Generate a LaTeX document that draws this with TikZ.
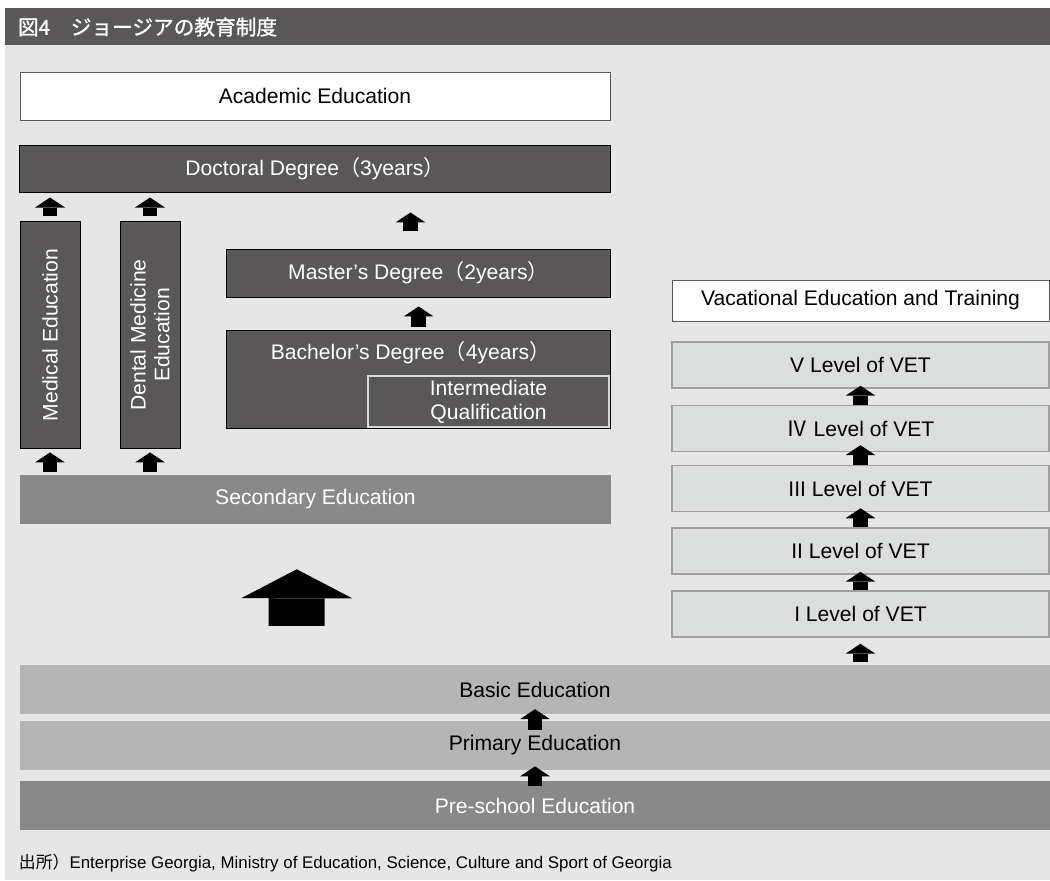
\documentclass[tikz,border=0pt]{standalone}
\usepackage{fontspec}
\setmainfont{Liberation Sans}
\newfontfamily\cjk{Noto Sans CJK JP}
\newfontfamily\cjktitle{Noto Sans CJK JP}[FakeBold=1.2]
\usetikzlibrary{arrows.meta,positioning}
\definecolor{Dark}{HTML}{595757}
\definecolor{Back}{HTML}{E6E6E6}
\definecolor{Mid}{HTML}{898989}
\definecolor{Light}{HTML}{B5B5B5}
\definecolor{Vet}{HTML}{DCDDDD}
\definecolor{VetLine}{HTML}{A0A0A0}
\newcommand{\zl}{{\cjk （}}
\newcommand{\zr}{{\cjk ）}}

\begin{document}
\begin{tikzpicture}[
  x=0.025cm, y=-0.025cm,
  every node/.style={font=\fontsize{15}{17}\selectfont},
  darkbox/.style={
    draw=black,
    fill=Dark,
    text=white,
    line width=0.7pt,
    align=center,
    inner sep=0pt
  },
  whitebox/.style={draw=black!65, fill=white, line width=0.6pt},
  vetbox/.style={
    draw=VetLine,
    fill=Vet,
    line width=1pt,
    minimum width=9.425cm,
    minimum height=1.15cm
  },
  band/.style={minimum width=25.75cm, minimum height=1.225cm, inner sep=0pt},
  uparrow/.style={line width=10pt, -{Triangle[width=21.3pt,length=7.1pt,line width=0pt]}},
  bigarrow/.style={line width=39.8pt, -{Triangle[width=79pt,length=20.6pt,line width=0pt]}}
]

% Fond et bandeau
\useasboundingbox (0,0) rectangle (1050,880);
\fill[white] (0,0) rectangle (1050,880);
\fill[Back] (5,45) rectangle (1050,880);
\fill[Dark] (5,8) rectangle (1050,45);
\node[anchor=west, text=white, font=\cjktitle\fontsize{14.7}{17}\selectfont] (title) at (13,27) {図4　ジョージアの教育制度};

% Enseignement académique
\node[whitebox, minimum width=14.75cm, minimum height=1.2cm] (acad) at (315,96) {Academic Education};
\node[darkbox, minimum width=14.75cm, minimum height=1.175cm] (doc) at (315,168.5) {Doctoral Degree\zl 3years\zr};
\node[darkbox, minimum width=1.5cm, minimum height=5.65cm,
  label={[rotate=90, text=white]center:Medical Education}] (med) at (50,335) {};
\node[darkbox, minimum width=1.5cm, minimum height=5.65cm,
  label={[rotate=90, text=white, align=center]center:{Dental Medicine\\Education}}] (dent) at (150,335) {};
\node[darkbox, minimum width=9.575cm, minimum height=1.2cm] (mast) at (418.5,273) {Master’s Degree\zl 2years\zr};
\node[darkbox, minimum width=9.575cm, minimum height=2.425cm,
  label={[anchor=center, yshift=-0.55cm, xshift=-0.2cm, text=white]north:Bachelor’s Degree\zl 4years\zr}] (bach) at (418.5,379.5) {};
\node[darkbox, draw=white!85!black, line width=1pt, minimum width=6.025cm, minimum height=1.275cm] (inter) at (488.5,401.5) {Intermediate\\Qualification};
\node[fill=Mid, text=white, minimum width=14.775cm, minimum height=1.225cm, inner sep=0pt] (sec) at (315.5,499.5) {Secondary Education};

% Formation professionnelle
\node[whitebox, minimum width=9.425cm, minimum height=1.025cm] (vet) at (860.5,300.5) {Vacational Education and Training};
\node[vetbox] (v5) at (860.5,365) {V Level of VET};
\node[vetbox] (v4) at (860.5,428.5) {{\cjk Ⅳ} Level of VET};
\node[vetbox] (v3) at (860.5,488.5) {III Level of VET};
\node[vetbox] (v2) at (860.5,551) {II Level of VET};
\node[vetbox] (v1) at (860.5,614) {I Level of VET};

% Enseignement général
\node[band, fill=Light] (basic) at (535,689.5) {Basic Education};
\node[band, fill=Light] (prim) at (535,745.5) {Primary Education};
\node[band, fill=Mid, text=white] (pre) at (535,805.5) {Pre-school Education};

\node[anchor=west, font=\fontsize{12}{14}\selectfont] (src) at (14,863) {{\cjk 出所）}Enterprise Georgia, Ministry of Education, Science, Culture and Sport of Georgia};

% Flèches
\draw[uparrow, shorten <=3.6pt, shorten >=3.6pt] (med.north) -- (med.north |- doc.south);
\draw[uparrow, shorten <=3.6pt, shorten >=3.6pt] (dent.north) -- (dent.north |- doc.south);
\draw[uparrow, shorten <=2.1pt, shorten >=2.8pt] (med.south |- sec.north) -- (med.south);
\draw[uparrow, shorten <=2.1pt, shorten >=2.8pt] (dent.south |- sec.north) -- (dent.south);
\draw[uparrow, shorten <=2.8pt, shorten >=6.4pt] (bach.north) -- (mast.south);
\draw[uparrow, shorten <=12.1pt, shorten >=14.2pt] ([xshift=-0.2cm]mast.north) -- ([xshift=-0.2cm]mast.north |- doc.south);

\draw[uparrow, shorten >=-2.1pt] (v4.north) -- (v5.south);
\draw[uparrow, shorten >=-5pt] (v3.north) -- (v4.south);
\draw[uparrow, shorten >=-2.8pt] (v2.north) -- (v3.south);
\draw[uparrow, shorten >=-2.1pt] (v1.north) -- (v2.south);
\draw[uparrow, shorten <=2.1pt, shorten >=4.3pt] (basic.north -| v1.south) -- (v1.south);

\draw[uparrow, shorten <=-6.4pt, shorten >=-3.6pt] (prim.north) -- (basic.south);
\draw[uparrow, shorten <=-3.6pt, shorten >=-2.8pt] (pre.north) -- (prim.south);

\draw[bigarrow, shorten <=27.7pt, shorten >=32pt] ([xshift=6.925cm]basic.north west) -- ([xshift=6.925cm]sec.south west);
\end{tikzpicture}
\end{document}
